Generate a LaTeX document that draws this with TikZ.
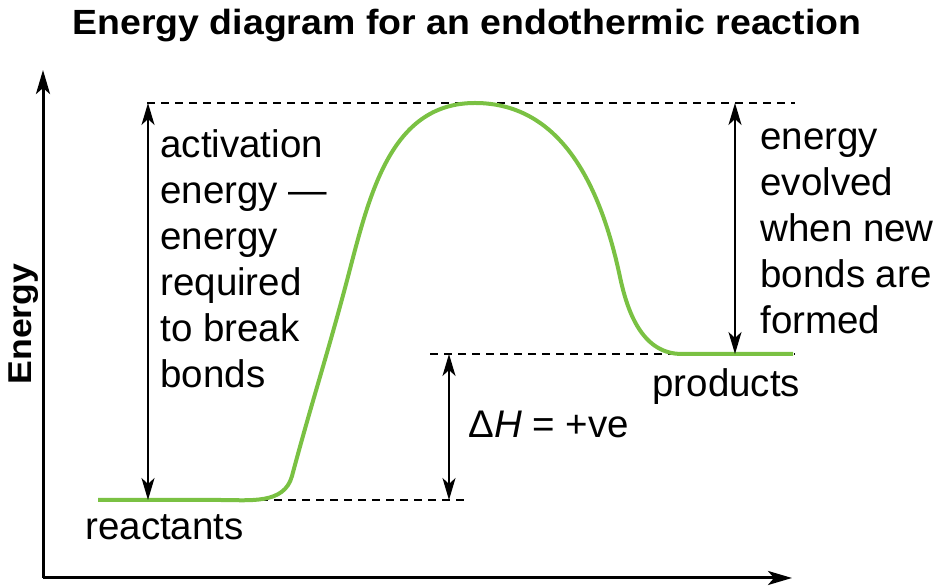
\documentclass[tikz,border=0pt]{standalone}
\usepackage{fontspec}
\setmainfont{Liberation Sans}
\usetikzlibrary{arrows.meta}

\begin{document}
\begin{tikzpicture}[x=0.5pt,y=0.5pt,
    axis/.style={line width=1.5pt,-{Stealth[length=12pt,width=7pt,inset=3pt]}},
    level/.style={dash pattern=on 4pt off 3pt,line width=0.7pt},
    gap/.style={line width=1pt,{Stealth[length=11pt,width=6.5pt,inset=3pt]}-{Stealth[length=11pt,width=6.5pt,inset=3pt]}},
    lbl/.style={inner sep=0pt,anchor=base west,align=left,font=\fontsize{19.25}{23}\selectfont},
    heading/.style={inner sep=0pt,anchor=base,font=\fontsize{17.5}{20}\selectfont\bfseries},
    profile/.style={color={rgb,255:red,122; green,193; blue,67},line width=2pt}]
    \useasboundingbox (0,0) rectangle (933,588);

    % axes
    \coordinate (O) at (43,10);
    \coordinate (ytip) at (43,518);
    \coordinate (xtip) at (792,10);
    \draw[axis] (O) -- (ytip);
    \draw[axis] (O) -- (xtip);

    % energy levels
    \coordinate (top1) at (147,485);
    \coordinate (top2) at (795,485);
    \coordinate (prod1) at (430,234);
    \coordinate (prod2) at (795,234);
    \coordinate (reac1) at (148,88);
    \coordinate (reac2) at (467,88);
    \draw[level] (top1) -- (top2);
    \draw[level] (prod1) -- (prod2);
    \draw[level] (reac1) -- (reac2);

    % reaction profile
    \draw[profile] (98,88) -- (220,88) to[out=0,in=-105] (292,112) to[out=75,in=-105] (345,300)
        to[out=75,in=180] (475,485) to[out=0,in=102] (620,311) to[out=-78,in=180] (682,234) -- (793,234);

    % double arrows
    \coordinate (act1) at (148,485);
    \coordinate (dh1) at (449,234);
    \coordinate (dh2) at (449,88);
    \coordinate (evo1) at (735,485);
    \coordinate (evo2) at (735,234);
    \draw[gap] (act1) -- (reac1);
    \draw[gap] (dh1) -- (dh2);
    \draw[gap] (evo1) -- (evo2);

    % texts (base = last line)
    \node[heading] (title) at (467,553) {\scalebox{1.07}[1]{Energy diagram for an endothermic reaction}};
    \node[heading,rotate=90,font=\fontsize{16.5}{20}\selectfont\bfseries] (ylab) at (31,264) {\scalebox{1.08}[1]{Energy}};
    \node[lbl] (act) at (160,200) {activation\\energy —\\energy\\required\\to break\\bonds};
    \node[lbl] (evol) at (760,254) {energy\\evolved\\when new\\bonds are\\formed};
    \node[lbl] (prod) at (652,191) {products};
    \node[lbl] (reac) at (85,48) {reactants};
    \node[lbl] (dH) at (468,150) {Δ\textit{H} = +ve};
\end{tikzpicture}
\end{document}
